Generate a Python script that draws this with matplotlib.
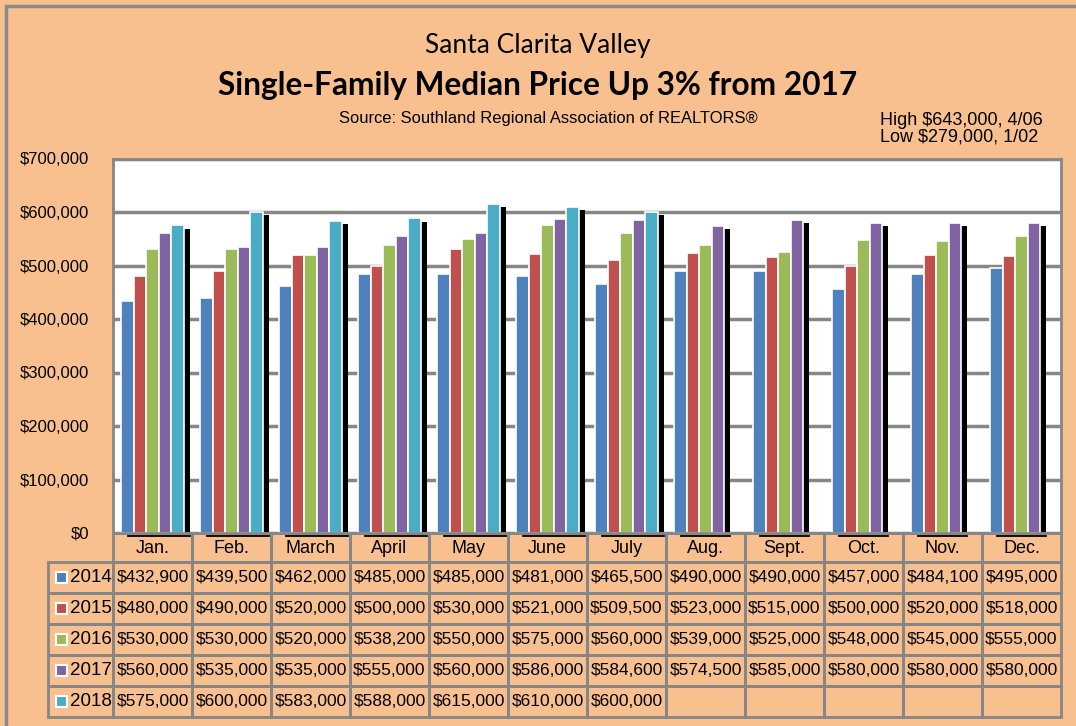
import matplotlib
matplotlib.use('Agg')
import matplotlib.pyplot as plt
import matplotlib.transforms as mtransforms
from matplotlib.patches import Rectangle

months = ['Jan.', 'Feb.', 'March', 'April', 'May', 'June', 'July', 'Aug.', 'Sept.', 'Oct.', 'Nov.', 'Dec.']
years = ['2014', '2015', '2016', '2017', '2018']

p2014 = [432900, 439500, 462000, 485000, 485000, 481000, 465500, 490000, 490000, 457000, 484100, 495000]
p2015 = [480000, 490000, 520000, 500000, 530000, 521000, 509500, 523000, 515000, 500000, 520000, 518000]
p2016 = [530000, 530000, 520000, 538200, 550000, 575000, 560000, 539000, 525000, 548000, 545000, 555000]
p2017 = [560000, 535000, 535000, 555000, 560000, 586000, 584600, 574500, 585000, 580000, 580000, 580000]
p2018 = [575000, 600000, 583000, 588000, 615000, 610000, 600000, None, None, None, None, None]
series = [p2014, p2015, p2016, p2017, p2018]
colors = ['#4F81BD', '#C0504D', '#9BBB59', '#8064A2', '#4BACC6']

bg = '#F9C08F'
grid_gray = '#868686'
sans = ['Liberation Sans', 'DejaVu Sans']

W, H = 1076, 726
fig = plt.figure(figsize=(W / 100, H / 100), dpi=100, facecolor=bg)

def fy(py):
    return 1 - py / H

def fx(px):
    return px / W

# outer frame (only left/top edges visible)
fig.patches.append(Rectangle((fx(6), fy(800)), fx(1200), fy(6) - fy(800), transform=fig.transFigure,
                             fill=False, edgecolor='#8C8C8C', lw=2.5))

ax_left, ax_right, ax_top, ax_bot = 113, 1061, 158.5, 533
ax = fig.add_axes([fx(ax_left), fy(ax_bot), fx(ax_right - ax_left), fy(ax_top) - fy(ax_bot)])
ax.set_facecolor('white')

bw = 0.157
offsets = [(k - 2) * bw for k in range(5)]
xs = list(range(len(months)))
shift = 0.085

tx = mtransforms.blended_transform_factory(ax.transData, fig.transFigure)

# drop shadow behind the last bar of each month
for i in xs:
    last = max(k for k in range(5) if series[k][i] is not None)
    ax.bar(i + offsets[last] + shift, series[last][i] - 6000, width=bw * 0.9, color='black', zorder=2)
    x0 = i + offsets[0] - bw / 2 + shift
    x1 = i + offsets[last] + shift + bw * 0.45
    fig.lines.append(plt.Line2D([x0, x1], [fy(535.5), fy(535.5)], transform=tx, color='black', lw=1.3))

for k, vals in enumerate(series):
    xv = [i + offsets[k] for i in xs if vals[i] is not None]
    yv = [v for v in vals if v is not None]
    ax.bar(xv, yv, width=bw, color=colors[k], edgecolor='white', lw=1.2, zorder=3)

ax.set_xlim(-0.5, 11.5)
ax.set_ylim(0, 700000)
ax.set_yticks(range(0, 700001, 100000))
ax.set_yticklabels(['${:,}'.format(v) for v in range(0, 700001, 100000)], fontfamily=sans, fontsize=12)
ax.tick_params(axis='y', length=0, pad=17)
ax.set_xticks([])
ax.yaxis.grid(True, color=grid_gray, lw=2.5, zorder=1)
ax.set_axisbelow(True)
for s in ax.spines.values():
    s.set_color(grid_gray)
    s.set_linewidth(2)

# titles
fig.text(0.5, fy(45), 'Santa Clarita Valley', ha='center', va='center', fontsize=19, fontfamily='Lato')
fig.text(0.5, fy(86), 'Single-Family Median Price Up 3% from 2017', ha='center', va='center',
         fontsize=22.8, fontweight='bold', fontfamily='Lato')
fig.text(fx(548), fy(118), 'Source: Southland Regional Association of REALTORS®', ha='center', va='center',
         fontsize=11.9, fontfamily=sans)
fig.text(fx(880), fy(129), 'High $643,000, 4/06\nLow $279,000, 1/02', ha='left', va='center',
         fontsize=13, fontfamily=sans, linespacing=0.95)

# data table under the plot
rows = [533, 562, 593, 624, 655, 686, 717]
cell_kw = dict(fill=False, edgecolor=grid_gray, lw=2, clip_on=False)
for i, m in enumerate(months):
    fig.patches.append(Rectangle((i - 0.5, fy(rows[1])), 1, fy(rows[0]) - fy(rows[1]), transform=tx, **cell_kw))
    fig.text(i, fy((rows[0] + rows[1]) / 2 + 1), m, transform=tx, ha='center', va='center',
             fontsize=13, fontfamily=sans)
for r, (yr, vals) in enumerate(zip(years, series)):
    top, bot = rows[r + 1], rows[r + 2]
    mid = fy((top + bot) / 2)
    fig.patches.append(Rectangle((fx(48), fy(bot)), fx(ax_left - 48), fy(top) - fy(bot),
                                 transform=fig.transFigure, **cell_kw))
    fig.patches.append(Rectangle((fx(56), mid - 5.5 / H), fx(11), 11 / H, transform=fig.transFigure,
                                 facecolor=colors[r], edgecolor='white', lw=1.5))
    fig.text(fx(70), mid, yr, ha='left', va='center', fontsize=13.5, fontfamily=sans)
    for i in xs:
        fig.patches.append(Rectangle((i - 0.5, fy(bot)), 1, fy(top) - fy(bot), transform=tx, **cell_kw))
        if vals[i] is not None:
            fig.text(i, mid, '${:,}'.format(vals[i]), transform=tx, ha='center', va='center',
                     fontsize=12.5, fontfamily=sans)

fig.savefig('out.png', dpi=100, facecolor=bg)
